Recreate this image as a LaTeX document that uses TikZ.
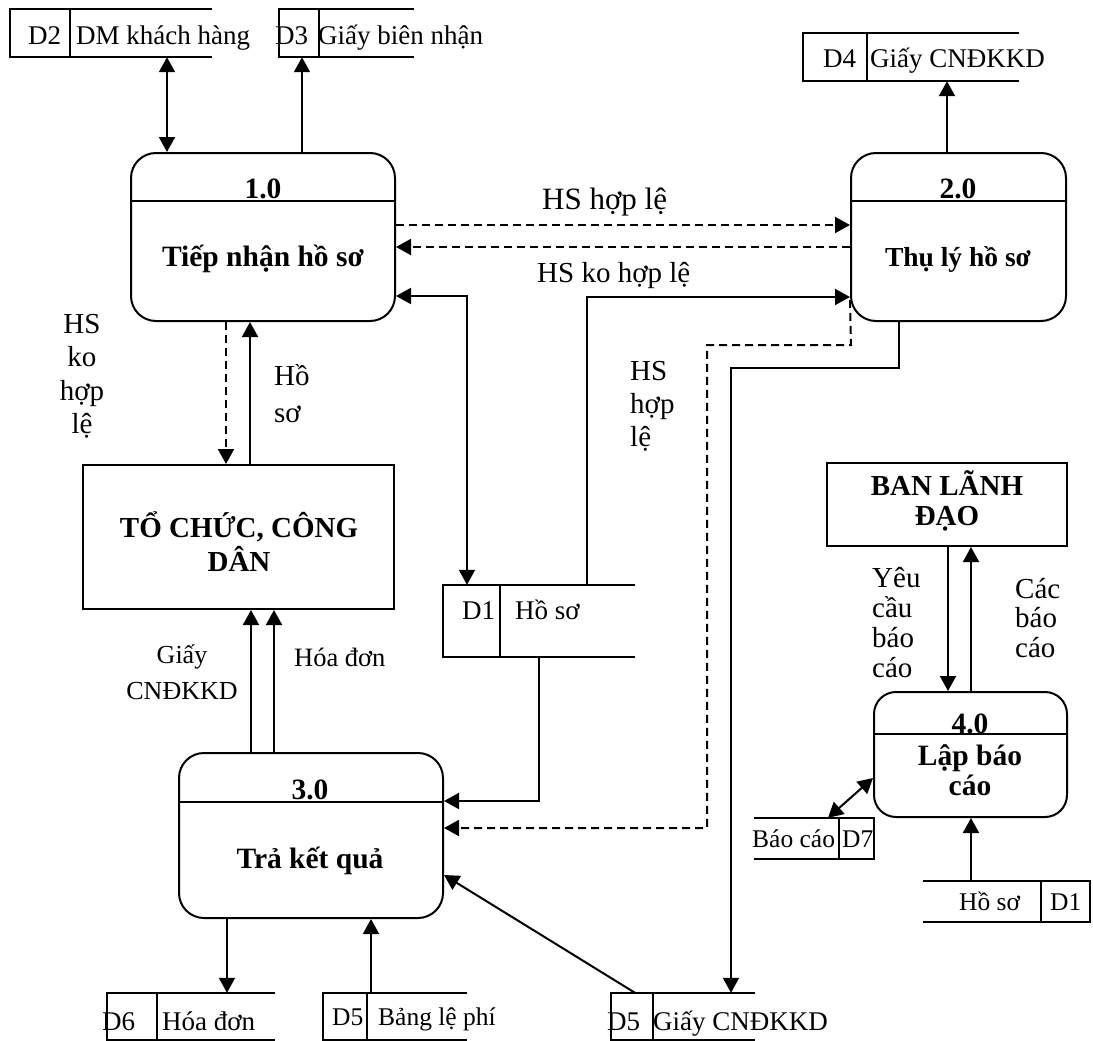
\documentclass[tikz,border=0pt]{standalone}
\usepackage{fontspec}
\setmainfont{Liberation Serif}
\usetikzlibrary{arrows.meta}
\begin{document}
\begin{tikzpicture}[x=1pt,y=-1pt,
  ln/.style={line width=2pt},
  arr/.style={ln,-{Triangle[length=15pt,width=16pt]}},
  darr/.style={ln,{Triangle[length=15pt,width=16pt]}-{Triangle[length=15pt,width=16pt]}},
  dsh/.style={dash pattern=on 8pt off 5pt},
  proc/.style={draw,ln,rounded corners=25pt,inner sep=0},
  ent/.style={draw,ln,inner sep=0},
  store/.style={inner sep=0,draw=none},
  flow/.style={inner sep=0,anchor=base,align=center,font=\fontsize{29}{#1}\selectfont},
  flow/.default=33.5,
  flowl/.style={inner sep=0,anchor=base west,align=left,font=\fontsize{29}{#1}\selectfont},
  flowl/.default=33.5,
  slbl/.style={inner sep=0,anchor=base west,font=\fontsize{27}{30}\selectfont},
  sslbl/.style={inner sep=0,anchor=base west,font=\fontsize{25.5}{30}\selectfont},
  bld/.style={inner sep=0,anchor=base,align=center,font=\fontsize{29.5}{#1}\selectfont\bfseries},
  bld/.default=32]
\useasboundingbox (0,0) rectangle (1093,1041);

% ---------- processes ----------
\node[proc, minimum width=264pt, minimum height=168pt] (p1) at (263,237) {};
\draw[ln] (p1.west |- 0,201) -- (p1.east |- 0,201);
\node[bld] (p1n) at (263,198) {1.0};
\node[bld] (p1t) at (263,266) {Tiếp nhận hồ sơ};

\node[proc, minimum width=215pt, minimum height=168pt] (p2) at (958.5,237) {};
\draw[ln] (p2.west |- 0,201) -- (p2.east |- 0,201);
\node[bld] (p2n) at (958,198) {2.0};
\node[bld, font=\fontsize{27.5}{32}\selectfont\bfseries] (p2t) at (958,266) {Thụ lý hồ sơ};

\node[proc, minimum width=264pt, minimum height=165pt] (p3) at (311,835.5) {};
\draw[ln] (p3.west |- 0,802) -- (p3.east |- 0,802);
\node[bld] (p3n) at (310,799) {3.0};
\node[bld] (p3t) at (310,868) {Trả kết quả};

\node[proc, rounded corners=22pt, minimum width=193pt, minimum height=125pt] (p4) at (970.5,754.5) {};
\draw[ln] (p4.west |- 0,734) -- (p4.east |- 0,734);
\node[bld] (p4n) at (970,733) {4.0};
\node[bld=30] (p4t) at (970,795) {Lập báo\\cáo};

% ---------- external entities ----------
\node[ent, minimum width=311pt, minimum height=144pt] (e1) at (238.5,537) {};
\node[bld=34, font=\fontsize{29}{34}\selectfont\bfseries] (e1t) at (239,571) {TỔ CHỨC, CÔNG\\DÂN};
\node[ent, minimum width=240pt, minimum height=83pt] (e2) at (947,504.5) {};
\node[bld=30, font=\fontsize{29}{30}\selectfont\bfseries] (e2t) at (947,525) {BAN LÃNH\\ĐẠO};

% ---------- data stores ----------
\node[store, minimum width=202pt, minimum height=48pt] (d2) at (111,33) {};
\draw[ln] (d2.north east) -- (d2.north west) -- (d2.south west) -- (d2.south east);
\draw[ln] (d2.north -| 70,0) -- (d2.south -| 70,0);
\node[slbl] (d2a) at (28,45) {D2};
\node[slbl] (d2b) at (76,45) {DM khách hàng};

\node[store, minimum width=135pt, minimum height=48pt] (d3) at (346.5,33) {};
\draw[ln] (d3.north east) -- (d3.north west) -- (d3.south west) -- (d3.south east);
\draw[ln] (d3.north -| 319,0) -- (d3.south -| 319,0);
\node[slbl] (d3a) at (275,45) {D3};
\node[slbl] (d3b) at (318,45) {Giấy biên nhận};

\node[store, minimum width=216pt, minimum height=48pt] (d4) at (911,57) {};
\draw[ln] (d4.north east) -- (d4.north west) -- (d4.south west) -- (d4.south east);
\draw[ln] (d4.north -| 867,0) -- (d4.south -| 867,0);
\node[slbl] (d4a) at (823,67) {D4};
\node[slbl] (d4b) at (870,67) {Giấy CNĐKKD};

\node[store, minimum width=192pt, minimum height=72pt] (d1) at (539,621) {};
\draw[ln] (d1.north east) -- (d1.north west) -- (d1.south west) -- (d1.south east);
\draw[ln] (d1.north -| 500,0) -- (d1.south -| 500,0);
\node[slbl] (d1a) at (462,619) {D1};
\node[slbl] (d1b) at (515,619) {Hồ sơ};

\node[store, minimum width=168pt, minimum height=46.5pt] (d6) at (191,1016.25) {};
\draw[ln] (d6.north east) -- (d6.north west) -- (d6.south west) -- (d6.south east);
\draw[ln] (d6.north -| 157,0) -- (d6.south -| 157,0);
\node[slbl] (d6a) at (102,1030) {D6};
\node[slbl] (d6b) at (162,1030) {Hóa đơn};

\node[store, minimum width=144pt, minimum height=46.5pt] (d5a) at (395,1016.25) {};
\draw[ln] (d5a.north east) -- (d5a.north west) -- (d5a.south west) -- (d5a.south east);
\draw[ln] (d5a.north -| 367,0) -- (d5a.south -| 367,0);
\node[sslbl] (d5aa) at (332,1025) {D5};
\node[sslbl] (d5ab) at (378,1025) {Bảng lệ phí};

\node[store, minimum width=144pt, minimum height=46.5pt] (d5b) at (683,1016.25) {};
\draw[ln] (d5b.north east) -- (d5b.north west) -- (d5b.south west) -- (d5b.south east);
\draw[ln] (d5b.north -| 653,0) -- (d5b.south -| 653,0);
\node[slbl] (d5ba) at (607,1030) {D5};
\node[slbl] (d5bb) at (653,1030) {Giấy CNĐKKD};

\node[store, minimum width=120pt, minimum height=41pt] (d7) at (814,838.5) {};
\draw[ln] (d7.north west) -- (d7.north east) -- (d7.south east) -- (d7.south west);
\draw[ln] (d7.north -| 839,0) -- (d7.south -| 839,0);
\node[sslbl] (d7a) at (752,847) {Báo cáo};
\node[sslbl] (d7b) at (842,847) {D7};

\node[store, minimum width=167pt, minimum height=41pt] (d1r) at (1006.5,901.5) {};
\draw[ln] (d1r.north west) -- (d1r.north east) -- (d1r.south east) -- (d1r.south west);
\draw[ln] (d1r.north -| 1041,0) -- (d1r.south -| 1041,0);
\node[sslbl] (d1ra) at (959,910) {Hồ sơ};
\node[sslbl] (d1rb) at (1050,910) {D1};

% ---------- connectors ----------
\draw[darr] (d2.south -| 167,0) -- (p1.north -| 167,0);
\draw[arr] (p1.north -| 302,0) -- (d3.south -| 302,0);
\draw[arr] (p2.north -| 947,0) -- (d4.south -| 947,0);
\draw[arr,dsh] (p1.east |- 0,225) -- (p2.west |- 0,225);
\draw[arr,dsh] (p2.west |- 0,247) -- (p1.east |- 0,247);
\draw[darr] (p1.east |- 0,296) -- (467,296) -- (d1.north -| 467,0);
\draw[arr] (d1.north -| 587,0) -- (587,297) -- (p2.west |- 0,297);
\draw[arr,dsh] (p2.west |- 0,300) -- (851,345) -- (707,345) -- (707,828) -- (p3.east |- 0,828);
\draw[arr] (p2.south -| 899,0) -- (899,368) -- (731,368) -- (d5b.north -| 731,0);
\draw[arr] (d1.south -| 539,0) -- (539,801) -- (p3.east |- 0,801);
\draw[arr,dsh] (p1.south -| 226,0) -- (e1.north -| 226,0);
\draw[arr] (e1.north -| 250,0) -- (p1.south -| 250,0);
\draw[arr] (p3.north -| 251,0) -- (e1.south -| 251,0);
\draw[arr] (p3.north -| 274,0) -- (e1.south -| 274,0);
\draw[arr] (p3.south -| 227,0) -- (d6.north -| 227,0);
\draw[arr] (d5a.north -| 371,0) -- (p3.south -| 371,0);
\draw[arr] (d5b.north -| 635,0) -- (p3.east |- 0,875);
\draw[arr] (e2.south -| 948,0) -- (p4.north -| 948,0);
\draw[arr] (p4.north -| 971,0) -- (e2.south -| 971,0);
\draw[darr] (d7.north -| 828,0) -- (p4.west |- 0,778);
\draw[arr] (d1r.north -| 971,0) -- (p4.south -| 971,0);

% ---------- flow labels ----------
\node[flowl, font=\fontsize{31}{34}\selectfont] (l1) at (542,209) {HS hợp lệ};
\node[flowl] (l2) at (537,282) {HS ko hợp lệ};
\node[flow=33.5] (l3) at (82,433.5) {HS\\ko\\hợp\\lệ};
\node[flowl=37] (l4) at (274,422) {Hồ\\sơ};
\node[flowl=33] (l5) at (630,446) {HS\\hợp\\lệ};
\node[flow, font=\fontsize{26}{36}\selectfont] (l6) at (182,699) {Giấy\\CNĐKKD};
\node[flowl, font=\fontsize{26.5}{30}\selectfont] (l7) at (294,666) {Hóa đơn};
\node[flowl=29.7] (l8) at (872,677) {Yêu\\cầu\\báo\\cáo};
\node[flowl=29.5] (l9) at (1015,657) {Các\\báo\\cáo};
\end{tikzpicture}
\end{document}
